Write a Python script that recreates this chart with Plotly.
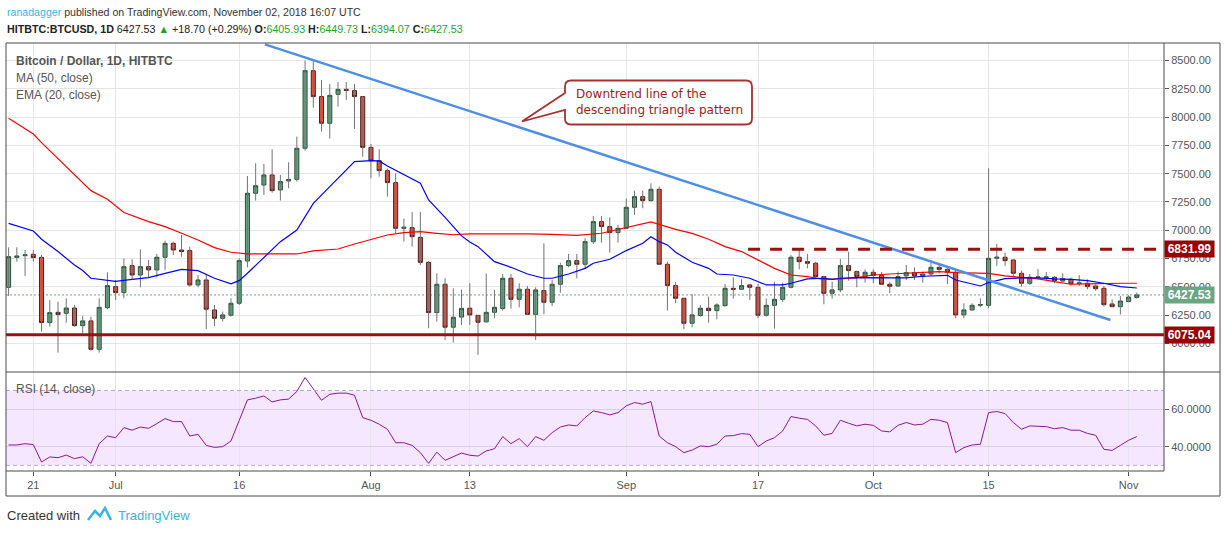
import pandas as pd
import plotly.graph_objects as go

# HITBTC:BTCUSD daily candles, 18 Jun - 2 Nov 2018
dates = pd.date_range('2018-06-18', '2018-11-02', freq='D')

opens = [6495, 6760, 6775, 6787, 6760, 6183, 6274, 6265, 6312, 6156,
         6198, 5947, 6315, 6501, 6448, 6687, 6604, 6678, 6649, 6761,
         6884, 6825, 6820, 6516, 6560, 6295, 6221, 6248, 6354, 6728,
         7327, 7400, 7489, 7356, 7436, 7450, 7725, 8411, 8182, 7946,
         8202, 8246, 8235, 8182, 7733, 7615, 7527, 7421, 7017, 7023,
         6937, 6716, 6271, 6522, 6142, 6232, 6310, 6247, 6190, 6274,
         6307, 6575, 6389, 6478, 6256, 6466, 6363, 6522, 6687, 6731,
         6699, 6899, 7076, 7032, 6979, 7017, 7203, 7297, 7262, 7362,
         6699, 6510, 6398, 6177, 6245, 6310, 6289, 6333, 6486, 6478,
         6516, 6495, 6248, 6336, 6389, 6495, 6761, 6722, 6708, 6590,
         6442, 6472, 6687, 6634, 6590, 6628, 6601, 6522, 6507, 6596,
         6625, 6590, 6613, 6672, 6654, 6628, 6251, 6295, 6336, 6336,
         6752, 6761, 6737, 6619, 6531, 6581, 6581, 6584, 6551, 6566,
         6528, 6531, 6507, 6486, 6348, 6324, 6369, 6405.93]
highs = [6849, 6849, 6825, 6825, 6781, 6383, 6368, 6398, 6339, 6242,
         6236, 6398, 6628, 6560, 6752, 6743, 6831, 6737, 6790, 6908,
         6899, 6958, 6855, 6604, 6604, 6339, 6280, 6398, 6752, 7480,
         7592, 7586, 7716, 7489, 7601, 7828, 8500, 8506, 8329, 8294,
         8311, 8311, 8294, 8187, 7763, 7716, 7545, 7503, 7105, 7162,
         7162, 6728, 6619, 6575, 6486, 6475, 6531, 6250, 6618, 6472,
         6613, 6613, 6531, 6507, 6495, 6884, 6560, 6713, 6790, 6790,
         6929, 7126, 7126, 7114, 7047, 7282, 7350, 7350, 7415, 7386,
         6722, 6540, 6398, 6436, 6339, 6413, 6354, 6525, 6584, 6566,
         6525, 6525, 6398, 6545, 6537, 6781, 6831, 6790, 6722, 6596,
         6545, 6746, 6811, 6643, 6654, 6654, 6631, 6545, 6634, 6693,
         6672, 6634, 6713, 6702, 6663, 6649, 6354, 6354, 6398, 7548,
         6878, 6802, 6743, 6643, 6613, 6657, 6631, 6596, 6619, 6581,
         6604, 6566, 6522, 6507, 6389, 6419, 6425, 6449.73]
lows = [6419, 6722, 6595, 6722, 6103, 6147, 5917, 6183, 6147, 6088,
        5935, 5917, 6301, 6383, 6398, 6560, 6495, 6584, 6584, 6649,
        6781, 6766, 6501, 6495, 6124, 6153, 6192, 6236, 6339, 6672,
        7262, 7312, 7333, 7262, 7371, 7430, 7704, 8084, 7872, 7810,
        8093, 8152, 7896, 7651, 7459, 7474, 7297, 6973, 6899, 6855,
        6693, 6133, 6192, 6029, 6006, 6162, 6162, 5897, 6182, 6221,
        6289, 6307, 6318, 6251, 6029, 6256, 6330, 6448, 6672, 6575,
        6657, 6878, 6890, 6802, 6890, 7011, 7135, 7194, 7253, 6693,
        6289, 6354, 6124, 6142, 6236, 6183, 6212, 6324, 6395, 6472,
        6383, 6221, 6236, 6130, 6363, 6486, 6654, 6663, 6575, 6345,
        6395, 6451, 6554, 6495, 6537, 6531, 6519, 6442, 6501, 6560,
        6560, 6537, 6596, 6619, 6525, 6221, 6221, 6289, 6318, 6310,
        6684, 6684, 6584, 6501, 6516, 6572, 6560, 6531, 6542, 6507,
        6507, 6478, 6466, 6324, 6320, 6254, 6363, 6394.07]
closes = [6766, 6772, 6782, 6758, 6183, 6271, 6254, 6312, 6156, 6198,
          5947, 6318, 6510, 6448, 6678, 6604, 6678, 6649, 6761, 6884,
          6825, 6811, 6516, 6560, 6301, 6221, 6251, 6354, 6731, 7327,
          7394, 7489, 7350, 7430, 7450, 7725, 8411, 8182, 7946, 8193,
          8246, 8237, 8182, 7733, 7615, 7527, 7421, 7017, 7026, 6943,
          6716, 6271, 6522, 6142, 6230, 6309, 6251, 6186, 6274, 6318,
          6575, 6389, 6478, 6256, 6472, 6363, 6522, 6687, 6731, 6699,
          6899, 7076, 7032, 6979, 7017, 7203, 7297, 7262, 7362, 6699,
          6510, 6398, 6177, 6251, 6310, 6289, 6339, 6486, 6478, 6510,
          6495, 6248, 6336, 6389, 6495, 6761, 6722, 6708, 6590, 6442,
          6472, 6687, 6643, 6590, 6628, 6601, 6522, 6504, 6590, 6625,
          6596, 6613, 6672, 6654, 6628, 6251, 6295, 6336, 6342, 6752,
          6761, 6731, 6619, 6531, 6584, 6587, 6587, 6554, 6572, 6525,
          6534, 6501, 6483, 6342, 6324, 6374, 6409, 6427.53]

# MA(50) and EMA(20) sampled along the drawn curves (day index, value)
ma50_day = [0, 3, 4, 6, 8, 10, 12, 14, 17, 19, 21, 23, 25, 27, 29, 32, 35, 37,
            40, 42, 44, 46, 48, 50, 52, 54, 56, 59, 61, 63, 66, 69, 72, 75, 78,
            81, 83, 85, 87, 89, 91, 93, 95, 97, 99, 101, 103, 105, 107, 109,
            111, 113, 115, 117, 119, 121, 123, 125, 127, 129, 131, 133, 135, 137]
ma50 = [7990, 7851, 7775, 7636, 7489, 7350, 7274, 7156, 7076, 7032, 6973, 6914,
        6846, 6805, 6790, 6790, 6790, 6817, 6834, 6878, 6920, 6958, 6979, 6988,
        6973, 6960, 6967, 6967, 6973, 6967, 6964, 6955, 6973, 7026, 7073, 7008,
        6972, 6920, 6855, 6811, 6737, 6663, 6604, 6590, 6566, 6569, 6581, 6604,
        6613, 6619, 6625, 6634, 6625, 6619, 6619, 6596, 6584, 6569, 6545, 6522,
        6525, 6531, 6531, 6531]
ema20_day = [0, 3, 4, 6, 8, 9, 10, 12, 13, 15, 17, 19, 21, 23, 25, 27, 28, 29,
             31, 33, 35, 36, 37, 39, 41, 42, 44, 45, 46, 48, 50, 51, 53, 55, 56,
             57, 59, 61, 63, 65, 66, 68, 70, 71, 73, 75, 77, 78, 79, 80, 81, 83,
             85, 86, 88, 90, 91, 92, 94, 95, 97, 99, 100, 101, 103, 105, 107,
             109, 111, 113, 114, 115, 117, 118, 119, 120, 121, 123, 125, 127,
             129, 131, 133, 135, 137]
ema20 = [7061, 6993, 6920, 6811, 6693, 6643, 6575, 6554, 6548, 6566, 6581, 6619,
         6654, 6643, 6575, 6525, 6554, 6619, 6760, 6899, 7002, 7120, 7238, 7386,
         7533, 7607, 7616, 7613, 7568, 7489, 7415, 7268, 7114, 6950, 6895, 6855,
         6722, 6672, 6613, 6575, 6575, 6613, 6663, 6708, 6743, 6820, 6884, 6943,
         6899, 6870, 6805, 6717, 6663, 6613, 6604, 6575, 6545, 6516, 6516, 6531,
         6569, 6575, 6566, 6575, 6581, 6581, 6575, 6578, 6593, 6601, 6601, 6560,
         6525, 6507, 6537, 6554, 6572, 6578, 6578, 6569, 6566, 6554, 6531, 6501,
         6489]

rsi = [40.9, 40.9, 41.6, 41.1, 31.8, 34.5, 34.1, 35.5, 33.6, 34.6,
       31.1, 41.6, 45.7, 44.8, 50.2, 48.8, 50.5, 49.8, 52.3, 55.0,
       53.4, 53.4, 45.7, 46.6, 40.7, 39.6, 40.0, 43.0, 54.0, 65.0,
       65.9, 67.1, 63.9, 65.0, 65.4, 69.5, 77.0, 70.7, 64.8, 68.0,
       68.6, 68.6, 67.5, 55.5, 54.1, 52.0, 49.3, 42.1, 42.1, 40.7,
       36.8, 31.1, 37.1, 32.7, 34.5, 36.6, 35.4, 35.0, 37.7, 38.9,
       45.4, 41.6, 44.3, 40.0, 45.4, 43.4, 47.5, 50.5, 51.6, 51.1,
       55.5, 59.1, 58.2, 57.0, 58.2, 61.8, 63.6, 62.7, 64.1, 45.7,
       42.1, 40.0, 36.8, 38.2, 40.4, 40.0, 41.3, 45.7, 45.9, 47.0,
       46.6, 40.0, 43.0, 44.8, 48.4, 56.1, 55.2, 54.6, 51.1, 46.1,
       47.1, 54.1, 52.5, 51.1, 52.0, 51.4, 48.4, 47.9, 51.4, 52.9,
       51.6, 52.0, 54.6, 54.1, 52.9, 36.8, 39.5, 40.9, 41.3, 58.2,
       58.8, 57.7, 52.9, 49.3, 51.1, 51.1, 50.7, 49.6, 50.2, 48.8,
       48.8, 47.1, 46.1, 38.6, 38.0, 40.7, 43.4, 45.4]

# drawings
trend_x = ['2018-07-19 03:00', '2018-10-29 19:00']
trend_y = [8644, 6206]
resistance = 6831.99
resistance_from = '2018-09-15 19:00'
support = 6075.04
last_price = 6427.53
rsi_band = [30, 70]

price_ticks = [6000, 6250, 6500, 6750, 7000, 7250, 7500, 7750, 8000, 8250, 8500]
date_ticks = ['2018-06-21', '2018-07-01', '2018-07-16', '2018-08-01', '2018-08-13',
              '2018-09-01', '2018-09-17', '2018-10-01', '2018-10-15', '2018-11-01']
date_labels = ['21', 'Jul', '16', 'Aug', '13', 'Sep', '17', 'Oct', '15', 'Nov']

# pixel frame of the chart inside the 1227x533 page
L, R, T, B = 6, 1164, 43, 471
SPLIT = 372


def px(x):
    return (x - L) / (R - L)


def py(y):
    return (B - y) / (B - T)


FONT = 'Liberation Sans'
GREY = '#555555'
DARKRED = '#991111'

fig = go.Figure()

# wicks (grey) under the bodies
wx, wy = [], []
for d, h, l in zip(dates, highs, lows):
    wx += [d, d, None]
    wy += [l, h, None]
fig.add_trace(go.Scatter(x=wx, y=wy, mode='lines', line=dict(color='#737375', width=1),
                         hoverinfo='skip', showlegend=False))

fig.add_trace(go.Candlestick(
    x=dates, open=opens, close=closes,
    high=[max(o, c) for o, c in zip(opens, closes)],
    low=[min(o, c) for o, c in zip(opens, closes)],
    increasing=dict(fillcolor='#6ba583', line=dict(color='#225437', width=1)),
    decreasing=dict(fillcolor='#d75442', line=dict(color='#5b1a13', width=1)),
    showlegend=False,
))

fig.add_trace(go.Scatter(x=dates[ma50_day], y=ma50, mode='lines',
                         line=dict(color='#ff0000', width=1.2), showlegend=False))
fig.add_trace(go.Scatter(x=dates[ema20_day], y=ema20, mode='lines',
                         line=dict(color='#0000ff', width=1.2), showlegend=False))

# trend line of the descending triangle
fig.add_trace(go.Scatter(x=trend_x, y=trend_y, mode='lines',
                         line=dict(color='#4d8fe6', width=2.5), showlegend=False))

fig.add_trace(go.Scatter(x=dates, y=rsi, yaxis='y2', mode='lines',
                         line=dict(color='#8e1599', width=1), showlegend=False))

shapes = [
    # rsi band
    dict(type='rect', xref='paper', yref='y2', x0=0, x1=1, y0=rsi_band[0], y1=rsi_band[1],
         fillcolor='rgba(153,21,255,0.1)', line=dict(width=0), layer='below'),
    dict(type='line', xref='paper', yref='y2', x0=0, x1=1, y0=rsi_band[0], y1=rsi_band[0],
         line=dict(color='#b8a8c8', width=1, dash='4px,3px')),
    dict(type='line', xref='paper', yref='y2', x0=0, x1=1, y0=rsi_band[1], y1=rsi_band[1],
         line=dict(color='#b8a8c8', width=1, dash='4px,3px')),
    # current price
    dict(type='line', xref='paper', yref='y', x0=0, x1=1, y0=last_price, y1=last_price,
         line=dict(color='#6ba583', width=1, dash='2px,2px'), layer='between'),
    # support / resistance
    dict(type='line', xref='paper', yref='y', x0=0, x1=1, y0=support, y1=support,
         line=dict(color=DARKRED, width=3)),
    dict(type='line', xref='x', yref='y', x0=resistance_from, x1=dates[-1] + pd.Timedelta(days=2.7),
         y0=resistance, y1=resistance,
         line=dict(color=DARKRED, width=3, dash='12px,10px')),
    # frame
    dict(type='rect', xref='paper', yref='paper', x0=0, x1=px(1220), y0=py(496), y1=1,
         line=dict(color='#4a4a4a', width=1)),
    dict(type='line', xref='paper', yref='paper', x0=1, x1=1, y0=0, y1=1,
         line=dict(color='#4a4a4a', width=1)),
    dict(type='line', xref='paper', yref='paper', x0=0, x1=px(1220), y0=py(SPLIT), y1=py(SPLIT),
         line=dict(color='#4a4a4a', width=1)),
    dict(type='line', xref='paper', yref='paper', x0=0, x1=1, y0=0, y1=0,
         line=dict(color='#4a4a4a', width=1)),
]

# callout box with pointer
pts = [('M', 571, 80.5), ('L', 746, 80.5), ('Q', 752, 80.5, 752, 86.5), ('L', 752, 118.5),
       ('Q', 752, 124.5, 746, 124.5), ('L', 571, 124.5), ('Q', 565, 124.5, 565, 118.5),
       ('L', 565, 110), ('L', 522, 121.5), ('L', 565, 93), ('L', 565, 86.5),
       ('Q', 565, 80.5, 571, 80.5)]
path = ''
for p in pts:
    cmd, coords = p[0], p[1:]
    xy = ['%.5f,%.5f' % (px(coords[i]), py(coords[i + 1])) for i in range(0, len(coords), 2)]
    path += cmd + ' ' + ' '.join(xy) + ' '
shapes.append(dict(type='path', xref='paper', yref='paper', path=path + 'Z',
                   fillcolor='white', line=dict(color='#a83030', width=1.8)))

# little TradingView logo
logo = [(88, 520), (95, 511), (100, 516), (105, 508), (111, 520)]
lpath = 'M ' + ' L '.join('%.5f,%.5f' % (px(a), py(b)) for a, b in logo)
shapes.append(dict(type='path', xref='paper', yref='paper', path=lpath,
                   line=dict(color='#3bb3e4', width=2.5)))

green = '#1fa31f'
annotations = [
    dict(x=px(5), y=py(12), xref='paper', yref='paper', xanchor='left', yanchor='middle',
         showarrow=False, font=dict(size=10.6, color='#333333', family=FONT),
         text="<span style='color:#3bb3e4'>ranadagger</span> published on TradingView.com, "
              "November 02, 2018 16:07 UTC"),
    dict(x=px(5), y=py(29), xref='paper', yref='paper', xanchor='left', yanchor='middle',
         showarrow=False, font=dict(size=10.7, color='#222222', family=FONT),
         text="<b>HITBTC:BTCUSD, 1D</b> 6427.53 <span style='color:%s'>▲</span> +18.70 (+0.29%%) "
              "<b>O:</b><span style='color:%s'>6405.93</span> <b>H:</b><span style='color:%s'>6449.73</span> "
              "<b>L:</b><span style='color:%s'>6394.07</span> <b>C:</b><span style='color:%s'>6427.53</span>"
              % (green, green, green, green, green)),
    dict(x=px(14), y=py(61), xref='paper', yref='paper', xanchor='left', yanchor='middle',
         showarrow=False, font=dict(size=12, color=GREY, family=FONT),
         text='<b>Bitcoin / Dollar, 1D, HITBTC</b>'),
    dict(x=px(14), y=py(78), xref='paper', yref='paper', xanchor='left', yanchor='middle',
         showarrow=False, font=dict(size=12, color=GREY, family=FONT), text='MA (50, close)'),
    dict(x=px(14), y=py(95), xref='paper', yref='paper', xanchor='left', yanchor='middle',
         showarrow=False, font=dict(size=12, color=GREY, family=FONT), text='EMA (20, close)'),
    dict(x=px(14), y=py(389), xref='paper', yref='paper', xanchor='left', yanchor='middle',
         showarrow=False, font=dict(size=12, color=GREY, family=FONT), text='RSI (14, close)'),
    dict(x=px(574), y=py(101.5), xref='paper', yref='paper', xanchor='left', yanchor='middle',
         showarrow=False, align='left', font=dict(size=12, color='#a32020', family='DejaVu Sans'),
         text='Downtrend line of the<br>descending triangle pattern'),
    dict(x=px(5), y=py(515), xref='paper', yref='paper', xanchor='left', yanchor='middle',
         showarrow=False, font=dict(size=13, color='#333333', family=FONT), text='Created with'),
    dict(x=px(116), y=py(515), xref='paper', yref='paper', xanchor='left', yanchor='middle',
         showarrow=False, font=dict(size=13, color='#3bb3e4', family=FONT), text='TradingView'),
]
# price labels on the right scale
for val, col in [(resistance, '#990000'), (last_price, '#6ba583'), (support, '#990000')]:
    annotations.append(dict(x=1, y=val, xref='paper', yref='y', xanchor='left', yanchor='middle',
                            showarrow=False, text='<b>%.2f</b>' % val, bgcolor=col,
                            font=dict(size=12, color='white', family=FONT),
                            width=46, height=13, borderpad=1.5))

fig.update_layout(
    width=1227, height=533,
    margin=dict(l=L, r=1227 - R, t=T, b=533 - B),
    paper_bgcolor='white', plot_bgcolor='white',
    font=dict(family=FONT, size=11, color=GREY),
    showlegend=False,
    xaxis=dict(
        type='date', domain=[0, 1], anchor='y2',
        range=['2018-06-17 16:25', '2018-11-05 07:10'],
        tickvals=date_ticks, ticktext=date_labels,
        showgrid=True, gridcolor='#e6e6e6', gridwidth=1,
        ticks='outside', ticklen=4, tickcolor=GREY,
        tickfont=dict(size=11, color=GREY),
        showline=False, zeroline=False,
        rangeslider=dict(visible=False),
    ),
    yaxis=dict(
        domain=[py(SPLIT), 1], side='right', anchor='x',
        range=[5746, 8656],
        tickvals=price_ticks, tickformat='.2f',
        showgrid=True, gridcolor='#e6e6e6', gridwidth=1,
        ticks='outside', ticklen=4, tickcolor=GREY,
        tickfont=dict(size=11, color=GREY),
        zeroline=False, showline=False,
    ),
    yaxis2=dict(
        domain=[0, py(SPLIT)], side='right', anchor='x',
        range=[27.0, 79.9],
        tickvals=[40, 60], tickformat='.4f',
        showgrid=True, gridcolor='#dcd0e6', gridwidth=1,
        ticks='outside', ticklen=4, tickcolor=GREY,
        tickfont=dict(size=11, color=GREY),
        zeroline=False, showline=False,
    ),
    shapes=shapes,
    annotations=annotations,
)

# page has a default 8px body margin; drop it so the chart sits at the page corner
fig.write_html('out.html', config={'displayModeBar': False},
               post_script="document.body.style.margin='0px';")
